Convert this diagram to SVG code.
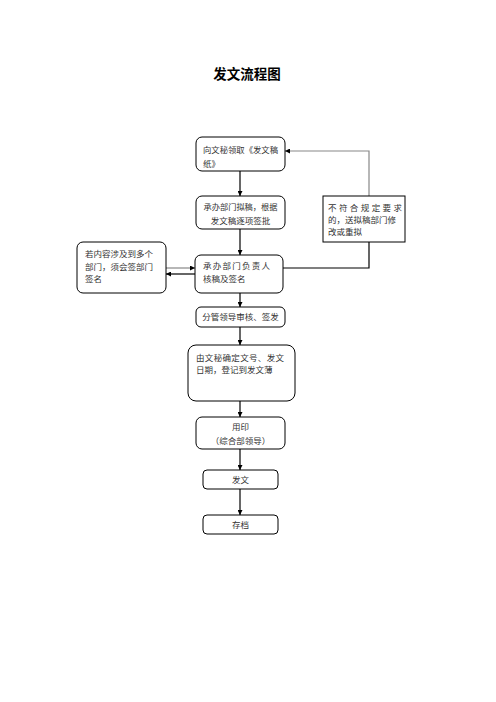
<svg xmlns="http://www.w3.org/2000/svg" width="496" height="702" viewBox="0 0 496 702">
<style>
.box{fill:#fff;stroke:#000;stroke-width:1}
.t{font-family:"Noto Sans CJK SC","Noto Sans CJK JP",sans-serif;font-size:8.5px;fill:#333}
.c{text-anchor:middle}
.ln{fill:none;stroke:#000;stroke-width:1.2}
.gl{fill:none;stroke:#888;stroke-width:1.2}
</style>
<defs>
<marker id="ah" viewBox="0 0 10 10" refX="10" refY="5" markerWidth="5" markerHeight="5" orient="auto" markerUnits="userSpaceOnUse">
<path d="M0,0 L10,5 L0,10 z" fill="#000"/>
</marker>
</defs>
<rect width="496" height="702" fill="#fff"/>
<text x="247" y="79" text-anchor="middle" font-family="'Noto Sans CJK SC',sans-serif" font-size="13.5" font-weight="bold" fill="#000">发文流程图</text>

<g id="connectors">
<line class="ln" x1="240" y1="171" x2="240" y2="196" marker-end="url(#ah)"/>
<line class="ln" x1="240" y1="229" x2="240" y2="255" marker-end="url(#ah)"/>
<line class="ln" x1="240" y1="293" x2="240" y2="307" marker-end="url(#ah)"/>
<line class="ln" x1="240" y1="327" x2="240" y2="345" marker-end="url(#ah)"/>
<line class="ln" x1="240" y1="401" x2="240" y2="417" marker-end="url(#ah)"/>
<line class="ln" x1="240" y1="449" x2="240" y2="470" marker-end="url(#ah)"/>
<line class="ln" x1="240" y1="489" x2="240" y2="515" marker-end="url(#ah)"/>
<line class="gl" x1="166" y1="268" x2="195" y2="268" marker-end="url(#ah)"/>
<line class="ln" x1="195" y1="274" x2="166" y2="274" marker-end="url(#ah)"/>
<polyline class="ln" points="283,268 369,268 369,242"/>
<polyline class="gl" points="369,196 369,151 285,151" marker-end="url(#ah)"/>
</g>

<g id="n1">
<rect class="box" x="196" y="137" width="89" height="34" rx="6"/>
<text class="t" x="203" y="152.5" textLength="75" lengthAdjust="spacingAndGlyphs">向文秘领取《发文稿</text>
<text class="t" x="203" y="166.5">纸》</text>
</g>
<g id="n2">
<rect class="box" x="196" y="196" width="89" height="33" rx="6"/>
<text class="t c" x="240.5" y="210" textLength="74" lengthAdjust="spacingAndGlyphs">承办部门拟稿，根据</text>
<text class="t c" x="240.5" y="224">发文稿逐项签批</text>
</g>
<g id="n3">
<rect class="box" x="195" y="255" width="88" height="38" rx="6"/>
<text class="t" x="203" y="269" textLength="67" lengthAdjust="spacing">承办部门负责人</text>
<text class="t" x="203" y="282">核稿及签名</text>
</g>
<g id="n_left">
<rect class="box" x="77" y="242" width="89" height="51" rx="6"/>
<text class="t" x="85" y="257">若内容涉及到多个</text>
<text class="t" x="85" y="270">部门，须会签部门</text>
<text class="t" x="85" y="282">签名</text>
</g>
<g id="n_right">
<rect class="box" x="323" y="196" width="82" height="46"/>
<text class="t" x="328" y="211" textLength="74" lengthAdjust="spacing">不符合规定要求</text>
<text class="t" x="328" y="223">的，送拟稿部门修</text>
<text class="t" x="328" y="235">改或重拟</text>
</g>
<g id="n4">
<rect class="box" x="196" y="307" width="89" height="20" rx="5"/>
<text class="t c" x="240.5" y="320">分管领导审核、签发</text>
</g>
<g id="n5">
<rect class="box" x="188" y="345" width="107" height="56" rx="8"/>
<text class="t" x="196" y="361" textLength="88" lengthAdjust="spacing">由文秘确定文号、发文</text>
<text class="t" x="196" y="373">日期，登记到发文薄</text>
</g>
<g id="n6">
<rect class="box" x="196" y="417" width="89" height="32" rx="6"/>
<text class="t c" x="240.5" y="430">用印</text>
<text class="t c" x="240.5" y="444">（综合部领导）</text>
</g>
<g id="n7">
<rect class="box" x="203" y="470" width="75" height="19" rx="4"/>
<text class="t c" x="240.5" y="483">发文</text>
</g>
<g id="n8">
<rect class="box" x="203" y="515" width="75" height="19" rx="4"/>
<text class="t c" x="240.5" y="528">存档</text>
</g>
</svg>
